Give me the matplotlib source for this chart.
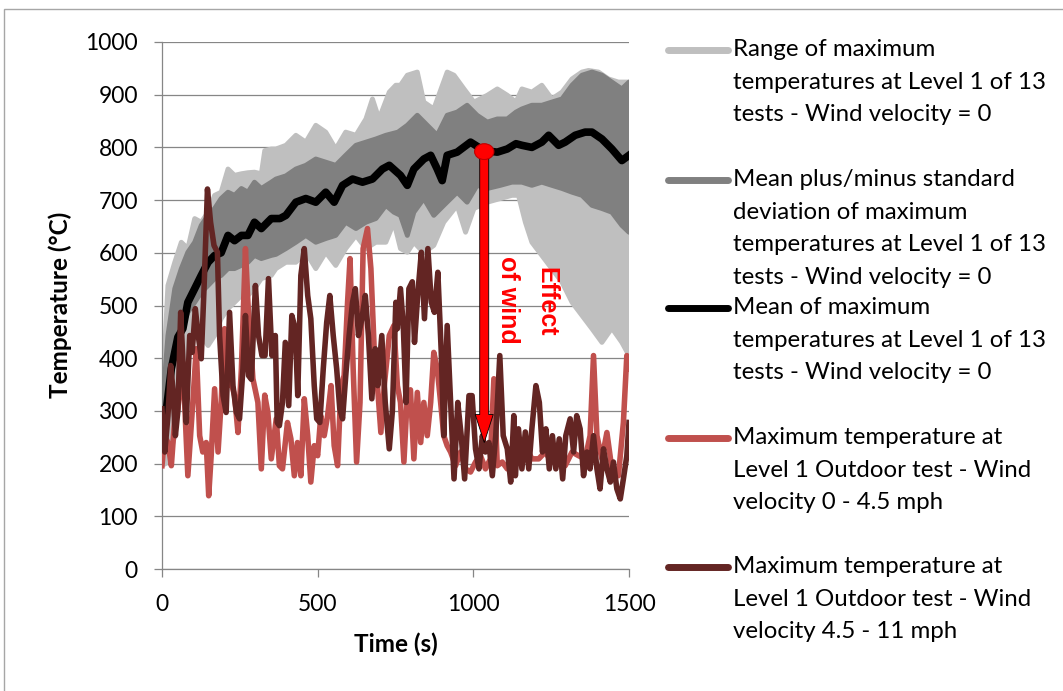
'''Max temperatures at Level 1 - effect of wind'''

import matplotlib
matplotlib.use('Agg')
import matplotlib.pyplot as plt
from matplotlib.lines import Line2D
from matplotlib.patches import Ellipse, Rectangle

# Range of maximum temperatures (13 tests, no wind)
t_rng_max = [0, 19, 41, 62, 83, 105, 126, 148, 169, 190, 212, 233, 255, 276, 297, 319, 330, 351,
             366, 398, 430, 462, 494, 526, 558, 590, 623, 655, 676, 697, 730, 751, 766, 788, 820,
             841, 873, 916, 938, 970, 1002, 1045, 1077, 1109, 1137, 1156, 1188, 1220, 1252, 1285,
             1317, 1349, 1370, 1402, 1434, 1466, 1500]
rng_max = [316, 538, 582, 620, 608, 665, 658, 677, 709, 715, 759, 747, 750, 752, 753, 750, 794, 797,
           797, 804, 823, 810, 842, 829, 797, 829, 823, 854, 892, 854, 905, 918, 918, 937, 943,
           886, 873, 943, 937, 911, 886, 899, 911, 899, 886, 911, 905, 918, 892, 905,
           930, 943, 946, 943, 930, 924, 924]

t_rng_min = [0, 19, 41, 62, 83, 105, 126, 148, 169, 190, 212, 233, 255, 276, 297, 319, 351, 366,
             398, 430, 462, 494, 526, 558, 590, 623, 655, 687, 719, 745, 766, 788, 809, 841, 873,
             905, 948, 975, 1002, 1045, 1087, 1124, 1145, 1167, 1188, 1220, 1252, 1285, 1317,
             1349, 1381, 1413, 1445, 1477, 1500]
rng_min = [196, 203, 253, 380, 411, 443, 443, 424, 443, 475, 494, 506, 519, 519, 532, 551, 557, 570,
           582, 582, 601, 570, 601, 576, 608, 633, 608, 620, 620, 658, 608, 601, 620, 600, 614,
           658, 690, 639, 684, 696, 703, 709, 709, 658, 620, 595, 570, 544, 506,
           481, 456, 430, 457, 430, 405]

# Mean +/- standard deviation
t_sd_hi = [0, 19, 41, 62, 83, 105, 126, 148, 169, 190, 212, 233, 255, 276, 297, 319, 351, 366,
           398, 430, 462, 494, 526, 558, 590, 623, 655, 687, 719, 758, 788, 820, 852, 884, 916,
           948, 980, 1012, 1045, 1077, 1109, 1137, 1156, 1188, 1220, 1252, 1285, 1317, 1349,
           1381, 1413, 1445, 1477, 1500]
sd_hi = [297, 443, 532, 570, 601, 620, 652, 671, 684, 703, 715, 709, 722, 715, 734, 722, 734, 740,
         746, 759, 766, 778, 772, 766, 785, 804, 810, 816, 823, 829, 842, 861, 842, 823, 861,
         867, 880, 861, 848, 854, 854, 867, 873, 880, 880, 886, 892, 918, 937,
         943, 937, 924, 911, 924]

t_sd_lo = [0, 19, 41, 62, 83, 105, 126, 148, 169, 190, 212, 233, 255, 276, 297, 319, 351, 366,
           398, 430, 462, 494, 526, 558, 590, 623, 655, 687, 719, 745, 766, 788, 809, 841, 873,
           905, 948, 980, 1012, 1045, 1087, 1124, 1156, 1188, 1220, 1252, 1285, 1317, 1349,
           1381, 1413, 1445, 1477, 1500]
sd_lo = [222, 316, 411, 456, 487, 506, 525, 538, 551, 557, 570, 570, 576, 582, 595, 589, 595, 597,
         608, 620, 633, 620, 627, 633, 658, 646, 658, 665, 690, 677, 671, 633, 677, 703, 671,
         690, 715, 696, 728, 722, 728, 734, 734, 728, 734, 728, 722, 715, 709,
         690, 684, 677, 652, 639]

# Mean of maximum temperatures
t_mean = [0, 9, 30, 51, 67, 83, 105, 126, 148, 169, 190, 212, 233, 255, 276, 297, 319, 351, 379,
          398, 430, 462, 494, 526, 553, 580, 612, 644, 676, 708, 730, 766, 788, 809, 841, 863,
          884, 900, 916, 948, 991, 1034, 1077, 1109, 1137, 1156, 1188, 1220, 1242, 1274, 1295,
          1327, 1359, 1381, 1413, 1445, 1477, 1500]
mean = [275, 278, 380, 440, 456, 506, 532, 557, 582, 595, 600, 633, 623, 633, 633, 658, 646, 665, 665,
        671, 696, 703, 696, 715, 696, 728, 740, 734, 740, 759, 766, 747, 728, 759, 778, 785,
        759, 737, 785, 791, 810, 794, 791, 797, 807, 804, 800, 810, 823, 804, 810,
        823, 829, 829, 816, 797, 775, 785]

# Outdoor test, wind 0 - 4.5 mph
t_low_wind = [0, 8, 19, 30, 41, 51, 67, 83, 99, 110, 121, 131, 142, 150, 158, 169, 180, 190, 201,
              212, 222, 233, 244, 255, 268, 276, 292, 308, 319, 330, 340, 351, 367, 377, 387, 403,
              414, 425, 435, 446, 457, 468, 478, 489, 500, 510, 521, 532, 543, 553, 564, 575, 585,
              596, 604, 614, 625, 636, 646, 660, 671, 682, 692, 703, 714, 730, 745, 756, 766, 777,
              788, 798, 809, 820, 831, 841, 852, 863, 873, 884, 895, 905, 916, 927, 943, 959, 975,
              991, 1007, 1023, 1039, 1055, 1066, 1077, 1093, 1109, 1125, 1145, 1167, 1188, 1210,
              1231, 1252, 1274, 1295, 1317, 1338, 1359, 1375, 1386, 1397, 1413, 1429, 1445, 1466,
              1482, 1493, 1500]
low_wind = [196, 253, 240, 196, 285, 304, 392, 177, 316, 418, 253, 222, 240, 139, 215, 342, 222, 316,
            456, 348, 355, 329, 259, 380, 608, 506, 361, 316, 190, 330, 297, 209, 285, 196, 190,
            278, 247, 177, 240, 177, 323, 253, 165, 234, 215, 291, 253, 291, 348, 234, 196, 348,
            367, 506, 589, 380, 203, 316, 608, 646, 570, 411, 348, 259, 348, 443, 462, 348, 316,
            203, 329, 340, 209, 335, 240, 316, 253, 316, 411, 380, 316, 253, 234, 222, 196, 222,
            190, 184, 203, 215, 190, 209, 361, 196, 203, 190, 203, 222, 234, 209, 209,
            222, 203, 209, 196, 222, 215, 209, 253, 405, 253, 209, 259, 190, 177,
            278, 405, 380]

# Outdoor test, wind 4.5 - 11 mph
t_high_wind = [0, 9, 19, 28, 35, 43, 51, 60, 71, 78, 89, 97, 107, 115, 126, 135, 146, 156, 167,
               178, 185, 196, 206, 217, 228, 239, 249, 260, 268, 278, 287, 300, 310, 321, 331, 342,
               353, 364, 370, 377, 387, 396, 407, 417, 428, 436, 446, 457, 468, 478, 489, 497, 507,
               518, 529, 539, 550, 561, 571, 580, 591, 601, 612, 621, 631, 642, 653, 663, 674, 685,
               693, 706, 717, 730, 740, 751, 756, 766, 775, 784, 793, 804, 811, 822, 833, 843, 854,
               865, 875, 886, 897, 905, 916, 927, 938, 950, 961, 972, 986, 996, 1007, 1018, 1029,
               1039, 1050, 1061, 1072, 1085, 1096, 1109, 1120, 1130, 1135, 1145, 1156, 1167, 1178,
               1188, 1201, 1212, 1222, 1233, 1244, 1254, 1265, 1276, 1287, 1297, 1311, 1322, 1332,
               1343, 1354, 1365, 1375, 1386, 1397, 1407, 1418, 1429, 1440, 1450, 1461, 1472, 1482,
               1493, 1500]
high_wind = [304, 222, 290, 386, 342, 253, 300, 487, 348, 278, 443, 411, 494, 450, 399, 532, 721, 658,
             614, 601, 443, 329, 297, 487, 348, 297, 285, 380, 481, 367, 360, 538, 443, 405, 405,
             551, 405, 443, 278, 272, 316, 430, 310, 481, 456, 329, 557, 608, 519, 475, 348, 285,
             278, 380, 468, 519, 443, 380, 304, 285, 373, 443, 506, 532, 443, 475, 519, 443, 323,
             418, 348, 443, 316, 228, 300, 506, 456, 532, 462, 316, 532, 545, 430, 525, 601, 475,
             608, 506, 487, 563, 411, 253, 462, 316, 171, 316, 253, 171, 329, 329, 228, 190,
             253, 222, 240, 177, 253, 405, 253, 228, 165, 291, 177, 266, 190, 260, 190,
             266, 348, 316, 222, 266, 190, 253, 190, 247, 171, 253, 285, 222, 291,
             266, 177, 222, 190, 253, 190, 152, 228, 190, 165, 203, 152, 133, 171,
             215, 278]

legend_labels = [
    'Range of maximum\ntemperatures at Level 1 of 13\ntests - Wind velocity = 0',
    'Mean plus/minus standard\ndeviation of maximum\ntemperatures at Level 1 of 13\ntests - Wind velocity = 0',
    'Mean of maximum\ntemperatures at Level 1 of 13\ntests - Wind velocity = 0',
    'Maximum temperature at\nLevel 1 Outdoor test - Wind\nvelocity 0 - 4.5 mph',
    'Maximum temperature at\nLevel 1 Outdoor test - Wind\nvelocity 4.5 - 11 mph',
]
colors = ['#BFBFBF', '#808080', '#000000', '#C0504D', '#632523']

W, H = 1063, 691
plt.rcParams['font.family'] = ['Lato', 'DejaVu Sans']
grid_col = '#868686'

fig = plt.figure(figsize=(W / 100, H / 100), dpi=100)
# chart border (only left and top edges fall inside the picture)
fig.patches.append(Rectangle((4 / W, -0.1), 1.2, 1 - 9 / H + 0.1, transform=fig.transFigure,
                             fill=False, edgecolor='#A6A6A6', lw=1))
ax = fig.add_axes([162 / W, 1 - 569 / H, 467 / W, 527 / H])

# Bands
ax.fill(t_rng_max + t_rng_min[::-1], rng_max + rng_min[::-1], color=colors[0], lw=3.5,
        joinstyle='round', zorder=2)
ax.fill(t_sd_hi + t_sd_lo[::-1], sd_hi + sd_lo[::-1], color=colors[1], lw=3.5,
        joinstyle='round', zorder=3)
ax.plot(t_mean, mean, color=colors[2], lw=5.5, solid_joinstyle='round', zorder=4)
ax.plot(t_low_wind, low_wind, color=colors[3], lw=4, solid_joinstyle='round', zorder=5)
ax.plot(t_high_wind, high_wind, color=colors[4], lw=4, solid_joinstyle='round', zorder=6)

ax.set_xlim(0, 1500)
ax.set_ylim(0, 1000)
ax.set_xticks([0, 500, 1000, 1500])
ax.set_yticks(range(0, 1001, 100))
ax.grid(axis='y', color=grid_col, lw=0.9, zorder=1)
ax.set_axisbelow(True)
for side in ['top', 'right']:
    ax.spines[side].set_visible(False)
for side in ['left', 'bottom']:
    ax.spines[side].set_color(grid_col)
    ax.spines[side].set_linewidth(0.9)
ax.tick_params(axis='both', colors=grid_col, labelcolor='black', labelsize=16.5,
               length=5.8, width=0.9, direction='out')
ax.tick_params(axis='y', pad=11.5)
ax.tick_params(axis='x', pad=12.5)
ax.set_xlabel('Time (s)', fontsize=17.5, fontweight='bold')
ax.set_ylabel('Temperature (°C)', fontsize=17.5, fontweight='bold')
ax.xaxis.set_label_coords(0.5, -0.121)
ax.yaxis.set_label_coords(-0.193, 0.501)

# Effect of wind annotation
ax.annotate('', xy=(1035, 240), xytext=(1035, 790),
            arrowprops=dict(arrowstyle='simple,head_length=1.4,head_width=0.9,tail_width=0.45',
                            mutation_scale=14.4, facecolor='#FF0000', edgecolor='black',
                            lw=0.6, shrinkA=0, shrinkB=0), zorder=8)
ax.add_patch(Ellipse((1035, 792), 62, 30, facecolor='#FF0000', edgecolor='#C00000',
                     lw=0.8, zorder=9))
ax.text(1211, 508, 'Effect', color='#FF0000', fontsize=18, fontweight='bold',
        family='Liberation Sans', rotation=-90, rotation_mode='anchor',
        ha='center', va='baseline', zorder=9)
ax.text(1089, 510, 'of wind', color='#FF0000', fontsize=18, fontweight='bold',
        family='Liberation Sans', rotation=-90, rotation_mode='anchor',
        ha='center', va='baseline', zorder=9)

# Legend drawn by hand to keep Excel-like spacing
entry_y = [50, 180, 308, 438, 567]
for y, label, col in zip(entry_y, legend_labels, colors):
    fig.lines.append(Line2D([668 / W, 728 / W], [1 - y / H, 1 - y / H], transform=fig.transFigure,
                            color=col, lw=5, solid_capstyle='round'))
    fig.text(733 / W, 1 - (y - 11) / H, label, fontsize=17.3, va='top', ha='left',
             linespacing=1.68)

fig.savefig('out.png', dpi=100)
